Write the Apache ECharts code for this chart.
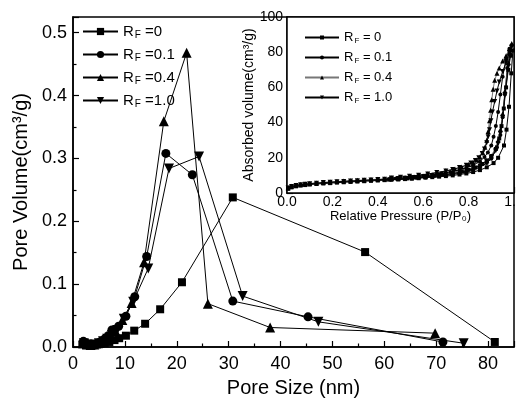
<!DOCTYPE html>
<html><head><meta charset="utf-8">
<script src="https://cdn.jsdelivr.net/npm/echarts@6/dist/echarts.min.js"></script>
<style>html,body{margin:0;padding:0;background:#fff}#c{width:516px;height:402px}</style>
</head><body><div id="c"></div>
<script>
// ---- main plot: pore size distribution ----
const size0 = [1.8,2.5,3.2,3.9,4.6,5.3,6.1,7.0,8.0,8.9,10.2,11.8,13.9,16.8,21.0,30.8,56.3,81.3];
const vol0  = [0.004,0.003,0.003,0.003,0.004,0.005,0.006,0.008,0.011,0.014,0.018,0.026,0.037,0.060,0.103,0.238,0.151,0.008];
const size1 = [2.0,2.6,3.3,4.0,4.7,5.4,6.1,6.8,7.5,8.8,10.2,11.9,14.2,17.9,23.0,30.8,45.3,71.3];
const vol1  = [0.009,0.006,0.004,0.004,0.006,0.009,0.013,0.018,0.027,0.033,0.049,0.080,0.144,0.308,0.274,0.073,0.048,0.008];
const size4 = [2.0,2.7,3.4,4.1,4.8,5.5,6.3,7.2,8.2,9.5,11.3,13.7,17.5,21.9,26.0,38.0,69.8];
const vol4  = [0.007,0.004,0.003,0.004,0.006,0.009,0.013,0.018,0.025,0.043,0.070,0.135,0.359,0.468,0.069,0.031,0.022];
const size10 = [2.1,2.8,3.5,4.2,5.0,5.8,6.6,7.5,8.5,9.8,11.6,14.5,18.5,24.3,32.7,47.3,75.3];
const vol10  = [0.006,0.004,0.003,0.004,0.006,0.009,0.013,0.019,0.027,0.045,0.072,0.125,0.284,0.303,0.081,0.040,0.006];
const mainLabels = ['0','0.1','0.4','1.0'];

// ---- inset: isotherms (adsorption then desorption) ----
const p0 = [0.005,0.02,0.04,0.06,0.08,0.10,0.13,0.16,0.19,0.22,0.25,0.28,0.31,0.34,0.37,0.40,0.43,0.46,0.49,0.52,0.55,0.58,0.61,0.64,0.67,0.70,0.73,0.76,0.79,0.82,0.85,0.88,0.91,0.93,0.956,0.967,0.978,0.988,0.995,
            0.985,0.975,0.965,0.955,0.945,0.935,0.92,0.90,0.88,0.86,0.83,0.80,0.77,0.73,0.69,0.65,0.61,0.57,0.53,0.49,0.45];
const v0 = [2.4,3.2,3.8,4.2,4.5,4.8,5.1,5.4,5.6,5.9,6.1,6.3,6.5,6.7,6.9,7.1,7.3,7.5,7.7,7.9,8.1,8.4,8.7,9.0,9.3,9.6,10.0,10.5,11.1,11.9,13.0,14.6,17.0,20.0,27.0,36.0,49.0,68.0,81.0,
            78,70,60,48,38,31,25,21,18.5,16.5,14.5,13.2,12.2,11.2,10.4,9.8,9.2,8.7,8.3,7.9,7.6];
const p1 = [0.005,0.02,0.04,0.06,0.08,0.10,0.13,0.16,0.19,0.22,0.25,0.28,0.31,0.34,0.37,0.40,0.43,0.46,0.49,0.52,0.55,0.58,0.61,0.64,0.67,0.70,0.73,0.76,0.79,0.82,0.85,0.88,0.90,0.925,0.94,0.95,0.96,0.97,0.98,0.99,
            0.98,0.965,0.95,0.94,0.93,0.92,0.91,0.90,0.885,0.87,0.85,0.82,0.79,0.76,0.72,0.68,0.64,0.60,0.56,0.52,0.48,0.45];
const v1 = [2.7,3.5,4.1,4.5,4.8,5.1,5.4,5.7,5.9,6.2,6.4,6.6,6.8,7.0,7.2,7.4,7.6,7.8,8.0,8.2,8.4,8.7,9.0,9.3,9.7,10.1,10.6,11.2,12.0,13.1,14.6,17.0,19.5,26,33,43,56,71,79,84,
            82,76,66,56,46,38,32,27,23,20.5,18,15.8,14.3,13.2,12.0,11.1,10.4,9.8,9.2,8.7,8.3,8.0];
const p4 = [0.005,0.02,0.04,0.06,0.08,0.10,0.13,0.16,0.19,0.22,0.25,0.28,0.31,0.34,0.37,0.40,0.43,0.46,0.49,0.52,0.55,0.58,0.61,0.64,0.67,0.70,0.73,0.76,0.79,0.82,0.85,0.88,0.90,0.92,0.93,0.94,0.95,0.96,0.975,0.99,
            0.98,0.965,0.95,0.935,0.925,0.915,0.908,0.902,0.897,0.892,0.886,0.88,0.872,0.862,0.85,0.835,0.82,0.80,0.77,0.74,0.70,0.66,0.62,0.58,0.54,0.50,0.46];
const v4 = [3.0,3.8,4.4,4.8,5.1,5.4,5.7,6.0,6.3,6.5,6.8,7.0,7.2,7.4,7.6,7.8,8.0,8.2,8.4,8.6,8.9,9.2,9.5,9.9,10.3,10.8,11.4,12.1,13.0,14.3,16.0,18.5,21,26,30,36,45,58,74,85,
            82,78,75,71,68,64,59,53,47,41,35,30,26,23,20.5,18.8,17.5,16.2,14.8,13.7,12.6,11.6,10.8,10.1,9.5,9.0,8.5];
const p10 = [0.005,0.02,0.04,0.06,0.08,0.10,0.13,0.16,0.19,0.22,0.25,0.28,0.31,0.34,0.37,0.40,0.43,0.46,0.49,0.52,0.55,0.58,0.61,0.64,0.67,0.70,0.73,0.76,0.79,0.82,0.85,0.88,0.90,0.92,0.93,0.94,0.95,0.96,0.975,0.99,
            0.98,0.965,0.95,0.935,0.925,0.915,0.905,0.898,0.892,0.886,0.88,0.87,0.86,0.845,0.83,0.81,0.79,0.76,0.73,0.70,0.66,0.62,0.58,0.54,0.50,0.46];
const v10 = [2.9,3.7,4.3,4.7,5.0,5.3,5.6,5.9,6.1,6.4,6.6,6.8,7.0,7.2,7.4,7.6,7.8,8.0,8.2,8.4,8.7,9.0,9.3,9.6,10.0,10.5,11.0,11.7,12.6,13.8,15.4,17.8,20,24,28,34,43,56,72,83,
            80,74,69,63,58,52,46,41,36,32,28.5,25,22.5,20,18.5,17,15.8,14.5,13.4,12.5,11.6,10.8,10.1,9.5,9.0,8.5];
const insetLabels = ['0','0.1','0.4','1.0'];

const zip = (a,b) => a.map((x,i)=>[x,b[i]]);
const FONT = 'Liberation Sans, Arial, sans-serif';
const downTri = 'path://M0,0 L10,0 L5,9 Z';
const upTri = 'path://M5,0 L10,9 L0,9 Z';

const chart = echarts.init(document.getElementById('c'), null, {renderer:'canvas'});

function axisCommon(fs){
  return {
    axisLine:{show:true,lineStyle:{color:'#000',width:1.5}},
    axisTick:{show:true,inside:true,length:6,lineStyle:{color:'#000',width:1.2}},
    minorTick:{show:true,splitNumber:2,length:3.5,lineStyle:{color:'#000',width:1.2}},
    splitLine:{show:false},
    axisLabel:{color:'#000',fontSize:fs,fontFamily:FONT}
  };
}

const mainNames = ['m0','m1','m4','m10'];
const insNames = ['i0','i1','i4','i10'];
const mainSyms = ['rect','circle',upTri,downTri];
const mainSizes = [8,9,10,10];
const mainData = [zip(size0,vol0),zip(size1,vol1),zip(size4,vol4),zip(size10,vol10)];
const insData = [zip(p0,v0),zip(p1,v1),zip(p4,v4),zip(p10,v10)];

const series = [];
mainData.forEach((d,i)=>{
  series.push({name:mainNames[i],type:'line',xAxisIndex:0,yAxisIndex:0,data:d,
    symbol:mainSyms[i],symbolSize:mainSizes[i],showAllSymbol:true,
    lineStyle:{color:'#000',width:1},itemStyle:{color:'#000'},z:3});
});
insData.forEach((d,i)=>{
  series.push({name:insNames[i],type:'line',xAxisIndex:1,yAxisIndex:1,data:d,
    symbol:mainSyms[i],symbolSize:i<2?4:5,showAllSymbol:true,
    lineStyle:{color:i===2?'#777':'#000',width:1},itemStyle:{color:'#000'},z:5});
});

const richMain = {
  r:{fontSize:15,fontFamily:FONT,color:'#000'},
  s:{fontSize:10,fontFamily:FONT,color:'#000',padding:[8,0,0,1]},
  t:{fontSize:15,fontFamily:FONT,color:'#000'}
};
const richIns = {
  r:{fontSize:13,fontFamily:FONT,color:'#000'},
  s:{fontSize:8,fontFamily:FONT,color:'#000',padding:[6,0,0,1]},
  t:{fontSize:13,fontFamily:FONT,color:'#000'}
};

chart.setOption({
  animation:false,
  backgroundColor:'#fff',
  grid:[
    {left:73,top:17,right:2,bottom:55,outerBoundsMode:'none',containLabel:false,show:true,borderColor:'#000',borderWidth:1.5,backgroundColor:'transparent'},
    {left:287,top:17,right:2,bottom:209,outerBoundsMode:'none',containLabel:false,show:true,borderColor:'#000',borderWidth:1.5,backgroundColor:'#fff',z:1}
  ],
  legend:[
    {data:mainNames,orient:'vertical',left:77,top:19,itemWidth:35,itemHeight:9,itemGap:6.5,
     formatter:n=>'{r|R}{s|F}{t| =' + mainLabels[mainNames.indexOf(n)] + '}',
     textStyle:{rich:richMain}},
    {data:insNames,orient:'vertical',left:299,top:26,itemWidth:34,itemHeight:5,itemGap:6.5,
     formatter:n=>'{r|R}{s|F}{t| = ' + insetLabels[insNames.indexOf(n)] + '}',
     textStyle:{rich:richIns},z:6}
  ],
  xAxis:[
    Object.assign(axisCommon(18),{gridIndex:0,type:'value',min:0,max:85,interval:10,
      name:'Pore Size (nm)',nameLocation:'middle',nameGap:31,
      nameTextStyle:{fontSize:20,fontFamily:FONT,color:'#000'}}),
    Object.assign(axisCommon(14),{gridIndex:1,type:'value',min:0,max:1,interval:0.2,
      name:'Relative Pressure (P/P\u2080)',nameLocation:'middle',nameGap:14,
      nameTextStyle:{fontSize:13,fontFamily:FONT,color:'#000'}})
  ],
  yAxis:[
    Object.assign(axisCommon(18),{gridIndex:0,type:'value',min:0,max:0.525,interval:0.1,
      name:'Pore Volume(cm\u00b3/g)',nameLocation:'middle',nameGap:37,
      nameTextStyle:{fontSize:20,fontFamily:FONT,color:'#000'}}),
    Object.assign(axisCommon(14),{gridIndex:1,type:'value',min:0,max:100,interval:20,
      name:'Absorbed volume(cm\u00b3/g)',nameLocation:'middle',nameGap:27,
      nameTextStyle:{fontSize:14,fontFamily:FONT,color:'#000'}})
  ],
  series:series
});
// label formats and margins
chart.setOption({
  xAxis:[{axisLabel:{margin:8,showMaxLabel:false}},{axisLabel:{margin:2,formatter:v=>v.toFixed(1)}}],
  yAxis:[{axisLabel:{margin:6,showMaxLabel:false,formatter:v=>v.toFixed(1)}},{axisLabel:{margin:4}}]
});
</script></body></html>
